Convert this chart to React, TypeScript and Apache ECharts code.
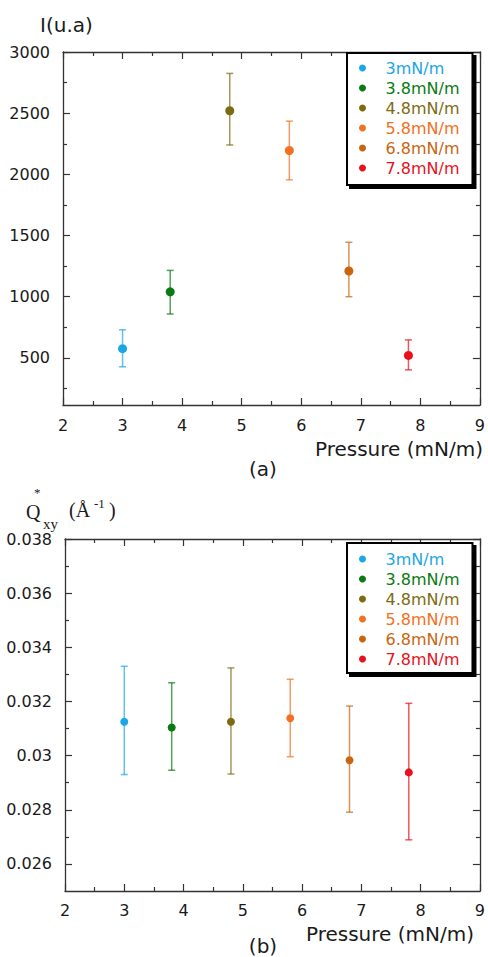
import React, { useEffect, useRef } from "react";
import * as echarts from "echarts";

const seriesNames = ["3mN/m", "3.8mN/m", "4.8mN/m", "5.8mN/m", "6.8mN/m", "7.8mN/m"];
const colors = ["#1ba6e6", "#0a7a12", "#7d6b12", "#f27022", "#c9650f", "#e8101c"];
const pressures = [3, 3.8, 4.8, 5.8, 6.8, 7.8];

const intensity = [575, 1040, 2520, 2195, 1210, 520];
const intensityHigh = [730, 1215, 2825, 2435, 1445, 647];
const intensityLow = [427, 859, 2240, 1955, 1000, 402];

const qxy = [0.03125, 0.03104, 0.03125, 0.03138, 0.02983, 0.02938];
const qxyHigh = [0.0333, 0.03269, 0.03324, 0.03282, 0.03183, 0.03193];
const qxyLow = [0.0293, 0.02946, 0.02932, 0.02996, 0.02791, 0.02689];

const intensityMajorTicks = [500, 1000, 1500, 2000, 2500, 3000];
const intensityMinorTicks = [250, 750, 1250, 1750, 2250, 2750];
const qxyMajorTicks = [0.026, 0.028, 0.03, 0.032, 0.034, 0.036, 0.038];
const qxyMinorTicks = [0.027, 0.029, 0.031, 0.033, 0.035, 0.037];

const FONT = "DejaVu Sans";
const AXIS_COLOR = "#333";
const TEXT_COLOR = "#1a1a1a";

function xAxes(gridIndex: number) {
  const base = {
    type: "value",
    gridIndex,
    min: 2,
    max: 9,
    interval: 1,
    axisLine: { show: true, lineStyle: { color: AXIS_COLOR, width: 1.3 } },
    axisTick: { show: true, inside: true, length: 7, lineStyle: { color: AXIS_COLOR, width: 1.2 } },
    minorTick: { show: true, splitNumber: 2, length: 4, lineStyle: { color: AXIS_COLOR, width: 1.2 } },
    splitLine: { show: false },
    minorSplitLine: { show: false },
  };
  return [
    {
      ...base,
      position: "bottom",
      axisLabel: {
        show: true,
        margin: gridIndex === 0 ? 12 : 11,
        fontSize: 16,
        fontFamily: FONT,
        color: TEXT_COLOR,
      },
    },
    { ...base, position: "top", axisLabel: { show: false } },
  ];
}

function yAxes(gridIndex: number, min: number, max: number, majors: number[], minors: number[], fmt: (v: number) => string) {
  const line = { show: true, lineStyle: { color: AXIS_COLOR, width: 1.3 } };
  const tickStyle = { color: AXIS_COLOR, width: 1.2 };
  const common = { type: "value", gridIndex, min, max, splitLine: { show: false } };
  return [
    {
      ...common,
      position: "left",
      axisLine: line,
      axisTick: { show: true, inside: true, length: 7, customValues: majors, lineStyle: tickStyle },
      axisLabel: {
        show: true,
        customValues: majors,
        margin: 13,
        fontSize: 16,
        fontFamily: FONT,
        color: TEXT_COLOR,
        formatter: (v: number) => fmt(v),
      },
    },
    {
      ...common,
      position: "right",
      axisLine: line,
      axisTick: { show: true, inside: true, length: 7, customValues: majors, lineStyle: tickStyle },
      axisLabel: { show: false },
    },
    {
      ...common,
      position: "left",
      axisLine: { show: false },
      axisTick: { show: true, inside: true, length: 4, customValues: minors, lineStyle: tickStyle },
      axisLabel: { show: false },
    },
    {
      ...common,
      position: "right",
      axisLine: { show: false },
      axisTick: { show: true, inside: true, length: 4, customValues: minors, lineStyle: tickStyle },
      axisLabel: { show: false },
    },
  ];
}

function errorBarSeries(xAxisIndex: number, yAxisIndex: number, lows: number[], highs: number[]) {
  return {
    type: "custom",
    xAxisIndex,
    yAxisIndex,
    z: 2,
    silent: true,
    encode: { x: 0, y: [1, 2] },
    data: pressures.map((p, i) => [p, lows[i], highs[i], i]),
    renderItem: (params: any, api: any) => {
      const x = api.value(0);
      const lo = api.value(1);
      const hi = api.value(2);
      const idx = api.value(3);
      const top = api.coord([x, hi]);
      const bot = api.coord([x, lo]);
      const w = 3.5;
      const style = { stroke: colors[idx], lineWidth: 1.5, opacity: 0.7 };
      return {
        type: "group",
        children: [
          { type: "line", shape: { x1: top[0], y1: top[1], x2: bot[0], y2: bot[1] }, style },
          { type: "line", shape: { x1: top[0] - w, y1: top[1], x2: top[0] + w, y2: top[1] }, style },
          { type: "line", shape: { x1: bot[0] - w, y1: bot[1], x2: bot[0] + w, y2: bot[1] }, style },
        ],
      };
    },
  };
}

function legendBox(top: number, padding: number[]) {
  return {
    data: seriesNames.map((n, i) => ({ name: n, textStyle: { color: colors[i] } })),
    orient: "vertical",
    left: 347,
    top,
    icon: "circle",
    itemWidth: 36,
    itemHeight: 7,
    itemGap: 0,
    padding,
    selectedMode: false,
    textStyle: { fontSize: 16, fontFamily: FONT, lineHeight: 20 },
    backgroundColor: "#fff",
    borderColor: "#000",
    borderWidth: 2,
    shadowColor: "#000",
    shadowBlur: 0,
    shadowOffsetX: 3,
    shadowOffsetY: 3,
  };
}

export default function App() {
  const ref = useRef<HTMLDivElement>(null);

  useEffect(() => {
    if (!ref.current) return;
    const chart = echarts.init(ref.current, undefined, { renderer: "svg" });

    const scatterTop = seriesNames.map((n, i) => ({
      type: "scatter",
      name: n,
      xAxisIndex: 0,
      yAxisIndex: 0,
      symbol: "circle",
      symbolSize: 9,
      z: 3,
      itemStyle: { color: colors[i], opacity: 1 },
      data: [[pressures[i], intensity[i]]],
    }));
    const scatterBottom = seriesNames.map((n, i) => ({
      type: "scatter",
      name: n,
      xAxisIndex: 2,
      yAxisIndex: 4,
      symbol: "circle",
      symbolSize: 8,
      z: 3,
      itemStyle: { color: colors[i], opacity: 1 },
      data: [[pressures[i], qxy[i]]],
    }));

    const serif = "Liberation Serif";

    const option: any = {
      animation: false,
      backgroundColor: "#fff",
      grid: [
        { left: 63, top: 52, width: 421, height: 353 },
        { left: 65, top: 539, width: 419, height: 352 },
      ],
      xAxis: [...xAxes(0), ...xAxes(1)],
      yAxis: [
        ...yAxes(0, 115, 3000, intensityMajorTicks, intensityMinorTicks, (v) => String(v)),
        ...yAxes(1, 0.025, 0.038, qxyMajorTicks, qxyMinorTicks, (v) => String(Number(v.toFixed(3)))),
      ],
      legend: [legendBox(53, [5, 13, 7, 12]), legendBox(543, [6, 13, 4, 12])],
      series: [
        errorBarSeries(0, 0, intensityLow, intensityHigh),
        errorBarSeries(2, 4, qxyLow, qxyHigh),
        ...scatterTop,
        ...scatterBottom,
      ],
      graphic: [
        {
          type: "text",
          left: 40,
          top: 15,
          style: { text: "I(u.a)", font: `20px "${FONT}"`, fill: TEXT_COLOR },
        },
        {
          type: "text",
          x: 483,
          y: 449,
          style: { text: "Pressure (mN/m)", font: `20px "${FONT}"`, fill: TEXT_COLOR, align: "right", verticalAlign: "middle" },
        },
        {
          type: "text",
          x: 263,
          y: 469,
          style: { text: "(a)", font: `20px "${FONT}"`, fill: TEXT_COLOR, align: "center", verticalAlign: "middle" },
        },
        {
          type: "text",
          x: 474,
          y: 934,
          style: { text: "Pressure (mN/m)", font: `20px "${FONT}"`, fill: TEXT_COLOR, align: "right", verticalAlign: "middle" },
        },
        {
          type: "text",
          x: 263,
          y: 946,
          style: { text: "(b)", font: `20px "${FONT}"`, fill: TEXT_COLOR, align: "center", verticalAlign: "middle" },
        },
        {
          type: "text",
          x: 26,
          y: 512,
          style: { text: "Q", font: `20px "${serif}"`, fill: TEXT_COLOR, verticalAlign: "middle" },
        },
        {
          type: "text",
          x: 34,
          y: 492,
          style: { text: "*", font: `13px "${serif}"`, fill: TEXT_COLOR, verticalAlign: "middle" },
        },
        {
          type: "text",
          x: 43,
          y: 524,
          style: { text: "xy", font: `15px "${serif}"`, fill: TEXT_COLOR, verticalAlign: "middle" },
        },
        {
          type: "text",
          x: 69,
          y: 510,
          style: { text: "(Å", font: `20px "${serif}"`, fill: TEXT_COLOR, verticalAlign: "middle" },
        },
        {
          type: "text",
          x: 94,
          y: 503,
          style: { text: "-1", font: `13px "${serif}"`, fill: TEXT_COLOR, verticalAlign: "middle" },
        },
        {
          type: "text",
          x: 109,
          y: 510,
          style: { text: ")", font: `20px "${serif}"`, fill: TEXT_COLOR, verticalAlign: "middle" },
        },
      ],
    };

    chart.setOption(option);
    return () => chart.dispose();
  }, []);

  return (
    <div
      ref={ref}
      style={{ position: "absolute", left: 0, top: 0, width: 488, height: 957, background: "#fff" }}
    />
  );
}
